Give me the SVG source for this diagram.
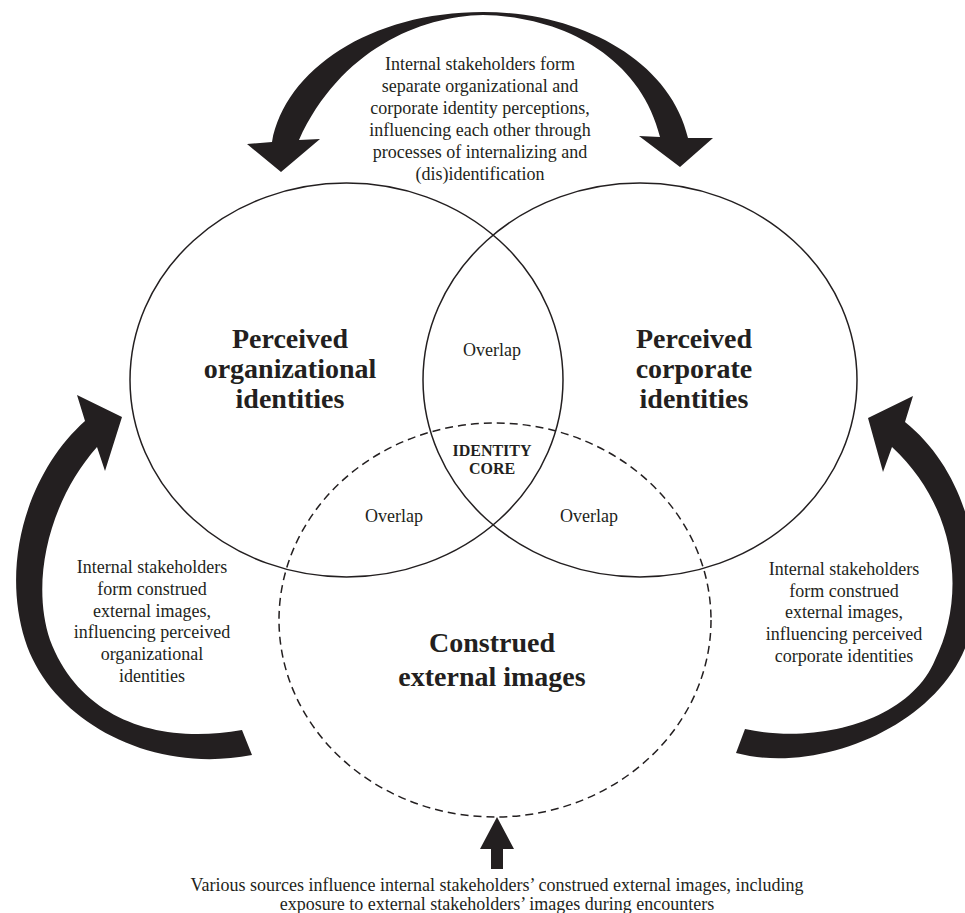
<svg xmlns="http://www.w3.org/2000/svg" width="965" height="913" viewBox="0 0 965 913">
<style>
.t{font-family:"Liberation Serif","Times New Roman",serif;font-size:18px;fill:#231f20;text-anchor:middle}
.b{font-family:"Liberation Serif","Times New Roman",serif;font-size:28px;font-weight:bold;fill:#231f20;text-anchor:middle}
.c{font-family:"Liberation Serif","Times New Roman",serif;font-size:16px;font-weight:bold;fill:#231f20;text-anchor:middle}
.o{fill:none;stroke:#231f20;stroke-width:1.5}
.d{fill:none;stroke:#231f20;stroke-width:1.5;stroke-dasharray:8 5}
.a{fill:#231f20;stroke:none}
</style>
<rect width="965" height="913" fill="#fff"/>
<g id="org">
<ellipse class="o" cx="346.5" cy="380" rx="216.5" ry="197"/>
<text class="b" x="290" y="348">Perceived</text>
<text class="b" x="290" y="378">organizational</text>
<text class="b" x="290" y="408">identities</text>
</g>
<g id="corp">
<ellipse class="o" cx="640" cy="380" rx="217" ry="197"/>
<text class="b" x="694" y="348">Perceived</text>
<text class="b" x="694" y="378">corporate</text>
<text class="b" x="694" y="408">identities</text>
</g>
<g id="ext">
<ellipse class="d" cx="495" cy="620" rx="216" ry="197"/>
<text class="b" x="492" y="652">Construed</text>
<text class="b" x="492" y="686">external images</text>
</g>
<g id="overlap-top"><text class="t" x="492" y="356">Overlap</text></g>
<g id="overlap-left"><text class="t" x="394" y="522">Overlap</text></g>
<g id="overlap-right"><text class="t" x="589" y="522">Overlap</text></g>
<g id="core">
<text class="c" x="492" y="456">IDENTITY</text>
<text class="c" x="492" y="474">CORE</text>
</g>
<g id="connectors">
<path class="a" d="M247,144 L272,142 C285,70 370,12 483,12 C580,12 670,60 688,138 L713,138 L680,167 L639,136 L660,137 C640,55 560,16 483,15 C420,16 340,50 299,140 L320,139 L281,172 Z"/>
<path class="a" d="M85,421 C30,470 0,560 25,640 C50,720 150,775 252,755 L242,730 C160,745 80,720 50,640 C30,580 50,500 97,447 L105,471 L122,417 L77,395 Z"/>
<path class="a" d="M905,422 C965,470 990,560 968,640 C940,725 820,775 736,753 L745,729 C820,745 910,720 935,660 C965,600 960,510 892,447 L883,472 L868,418 L913,396 Z"/>
<polygon class="a" points="497,817 480,849 491,849 491,869 503,869 503,849 514,849"/>
</g>
<g id="label-top">
<text class="t" x="480" y="70">Internal stakeholders form</text>
<text class="t" x="480" y="92">separate organizational and</text>
<text class="t" x="480" y="114">corporate identity perceptions,</text>
<text class="t" x="480" y="136">influencing each other through</text>
<text class="t" x="480" y="158">processes of internalizing and</text>
<text class="t" x="480" y="180">(dis)identification</text>
</g>
<g id="label-left">
<text class="t" x="152" y="573">Internal stakeholders</text>
<text class="t" x="152" y="595">form construed</text>
<text class="t" x="152" y="617">external images,</text>
<text class="t" x="152" y="638">influencing perceived</text>
<text class="t" x="152" y="660">organizational</text>
<text class="t" x="152" y="682">identities</text>
</g>
<g id="label-right">
<text class="t" x="844" y="575">Internal stakeholders</text>
<text class="t" x="844" y="597">form construed</text>
<text class="t" x="844" y="618">external images,</text>
<text class="t" x="844" y="640">influencing perceived</text>
<text class="t" x="844" y="662">corporate identities</text>
</g>
<g id="label-bottom">
<text class="t" x="497" y="891">Various sources influence internal stakeholders’ construed external images, including</text>
<text class="t" x="497" y="910">exposure to external stakeholders’ images during encounters</text>
</g>
</svg>
